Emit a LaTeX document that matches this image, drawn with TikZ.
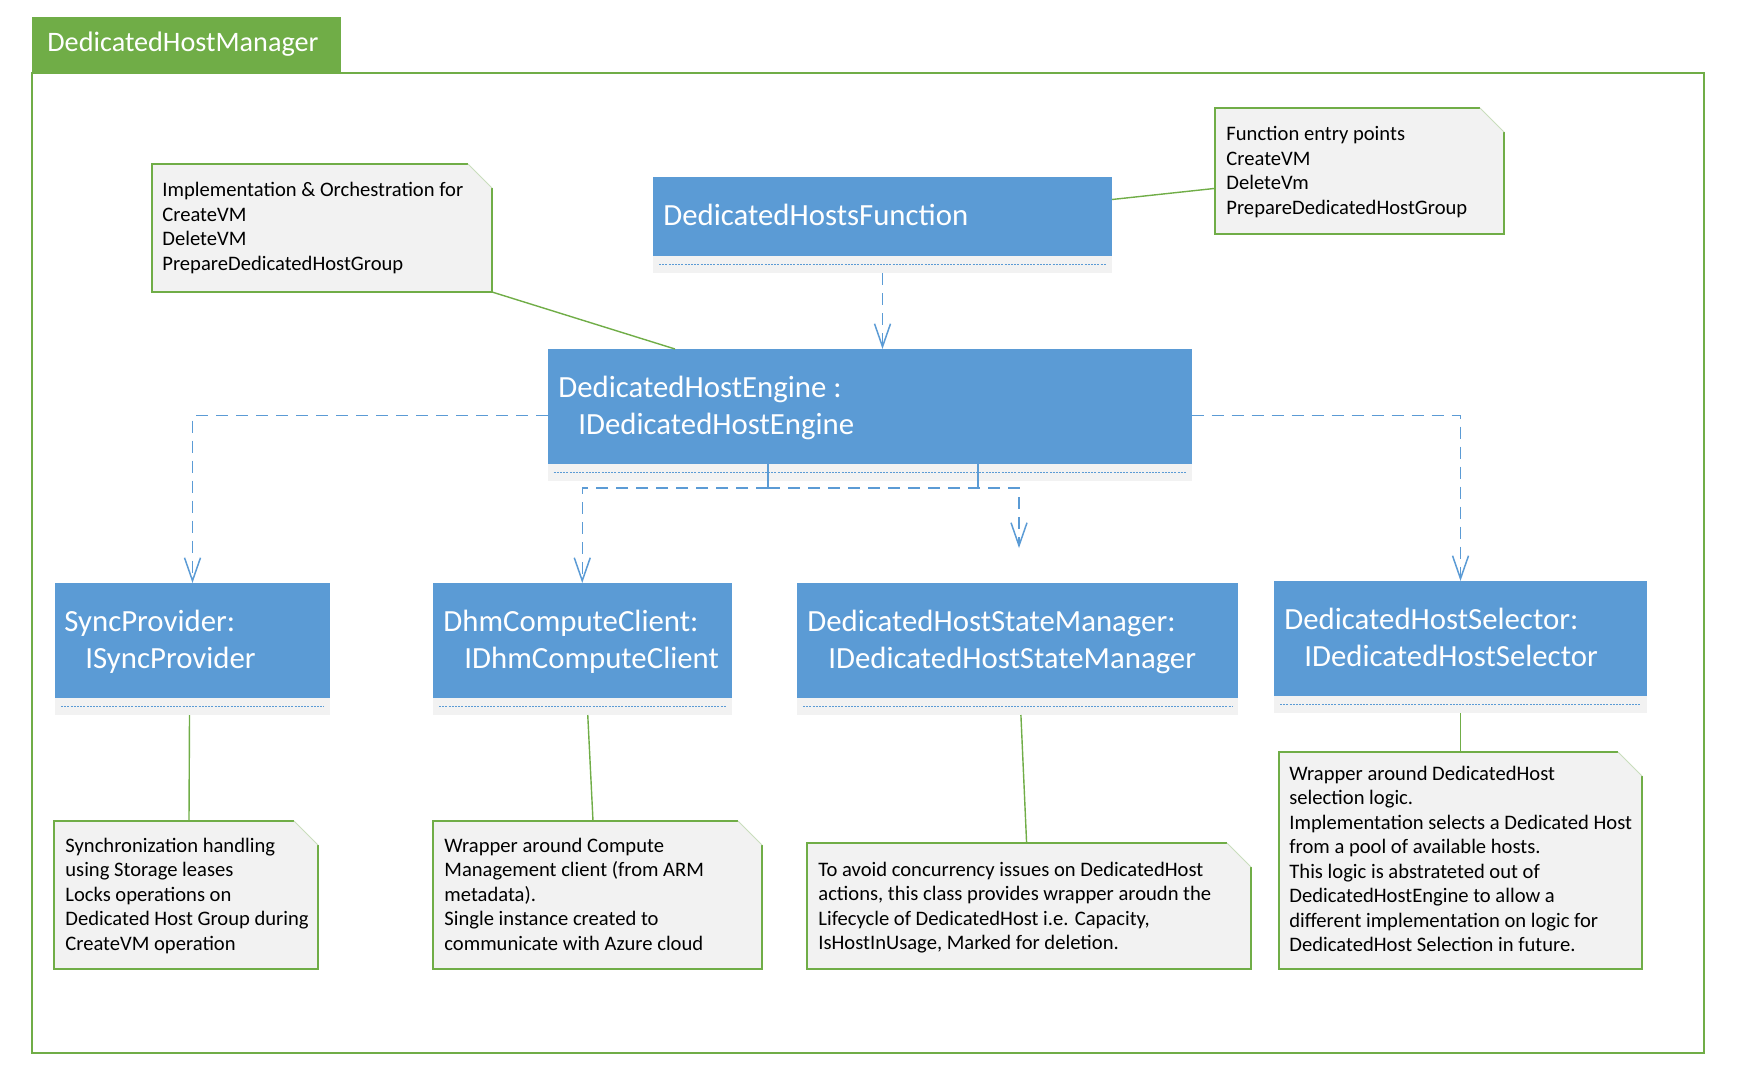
\documentclass[tikz,border=0pt]{standalone}
\usepackage{fontspec}
\setmainfont{Carlito}
\usetikzlibrary{arrows.meta,calc}
\definecolor{boxblue}{HTML}{5B9BD5}
\definecolor{stripgray}{HTML}{F2F2F2}
\definecolor{notegray}{HTML}{F2F2F2}
\definecolor{mgreen}{HTML}{70AD47}
\definecolor{foldgray}{HTML}{C9DDBC}
\newcommand{\boxfont}{\fontsize{15.4}{18.5}\selectfont}
\newcommand{\notefont}{\fontsize{10.3}{12.25}\selectfont}
\newcommand{\tabfont}{\fontsize{14.1}{16}\selectfont}
\newcommand{\drawnote}[1]{%
  \fill[notegray] (#1.north west) -- ([xshift=-12pt]#1.north east) -- ([yshift=-12pt]#1.north east) -- (#1.south east) -- (#1.south west) -- cycle;
  \draw[mgreen, line width=0.7pt] ([yshift=-12pt]#1.north east) -- (#1.south east) -- (#1.south west) -- (#1.north west) -- ([xshift=-12pt]#1.north east);
  \draw[foldgray, line width=0.4pt] ([xshift=-12pt]#1.north east) -- ([yshift=-12pt]#1.north east);
}
\tikzset{
  base/.style={rectangle, inner sep=0pt, outer sep=0pt, anchor=north west},
  clsbox/.style={base, fill=boxblue},
  clsstrip/.style={base, fill=stripgray, minimum height=8.5pt},
  notebox/.style={base},
  tabbox/.style={base, fill=mgreen},
  clstext/.style={anchor=base west, inner sep=0pt, text=white, font=\boxfont},
  ntext/.style={anchor=base west, inner sep=0pt, text=black, font=\notefont},
  dep/.style={draw=boxblue, line width=0.75pt, dash pattern=on 6pt off 4pt, -{Straight Barb[length=11.5pt,width=8pt]}},
  stub/.style={draw=boxblue, line width=0.75pt},
  dotln/.style={draw=boxblue, line width=0.6pt, dash pattern=on 1pt off 0.6pt},
  glink/.style={draw=mgreen, line width=0.7pt},
}
\begin{document}
\begin{tikzpicture}[x=0.5pt, y=-0.5pt]
\useasboundingbox (0,0) rectangle (1738,1075);
% frame and tab
\node[tabbox, minimum width=154.5pt, minimum height=28pt] (tab) at (32,17) {};
\node[anchor=base west, inner sep=0pt, text=white, font=\tabfont] (tabt) at (47,52) {DedicatedHostManager};
\draw[mgreen, line width=0.75pt] (32,73) rectangle (1704,1053);

% class boxes
\node[clsbox, minimum width=229.5pt, minimum height=39.5pt] (func) at (653,177) {};
\node[clsstrip, minimum width=229.5pt] (funcG) at (653,256) {};
\node[clstext] (funct) at (663,226) {DedicatedHostsFunction};

\node[clsbox, minimum width=322pt, minimum height=57.5pt] (eng) at (547.5,349) {};
\node[clsstrip, minimum width=322pt] (engG) at (547.5,464) {};
\node[clstext] (engt) at (558,397) {\begin{tabular}[t]{@{}l@{}}DedicatedHostEngine :\\\hspace*{10pt}IDedicatedHostEngine\end{tabular}};

\node[clsbox, minimum width=137.5pt, minimum height=57.5pt] (sync) at (55,583) {};
\node[clsstrip, minimum width=137.5pt] (syncG) at (55,698) {};
\node[clstext] (synct) at (64,631) {\begin{tabular}[t]{@{}l@{}}SyncProvider:\\\hspace*{10.5pt}ISyncProvider\end{tabular}};

\node[clsbox, minimum width=149.25pt, minimum height=57.5pt] (dhm) at (433,583) {};
\node[clsstrip, minimum width=149.25pt] (dhmG) at (433,698) {};
\node[clstext] (dhmt) at (443,631) {\begin{tabular}[t]{@{}l@{}}DhmComputeClient:\\\hspace*{10.5pt}IDhmComputeClient\end{tabular}};

\node[clsbox, minimum width=220.5pt, minimum height=57.5pt] (state) at (797,583) {};
\node[clsstrip, minimum width=220.5pt] (stateG) at (797,698) {};
\node[clstext] (statet) at (807,631) {\begin{tabular}[t]{@{}l@{}}DedicatedHostStateManager:\\\hspace*{10.5pt}IDedicatedHostStateManager\end{tabular}};

\node[clsbox, minimum width=186.5pt, minimum height=57.5pt] (sel) at (1274,581) {};
\node[clsstrip, minimum width=186.5pt] (selG) at (1274,696) {};
\node[clstext] (selt) at (1284,629) {\begin{tabular}[t]{@{}l@{}}DedicatedHostSelector:\\\hspace*{10pt}IDedicatedHostSelector\end{tabular}};

% dotted lines in strips
\foreach \n in {funcG,engG,syncG,dhmG,stateG,selG}{
  \draw[dotln] ([xshift=3pt]\n.west) -- ([xshift=-3pt]\n.east);
}

% notes
\node[notebox, minimum width=144.5pt, minimum height=63pt] (nTR) at (1215,108) {};
\node[notebox, minimum width=170pt, minimum height=64pt] (nTL) at (152,164) {};
\node[notebox, minimum width=132pt, minimum height=74pt] (n1) at (54,821) {};
\node[notebox, minimum width=164.5pt, minimum height=74pt] (n2) at (433,821) {};
\node[notebox, minimum width=222pt, minimum height=63pt] (n3) at (807,843) {};
\node[notebox, minimum width=181.5pt, minimum height=108.5pt] (n4) at (1279,752) {};
\foreach \n in {nTR,nTL,n1,n2,n3,n4}{\drawnote{\n}}

\node[ntext] (tTR) at (1226,141) {\begin{tabular}[t]{@{}l@{}}Function entry points\\CreateVM\\DeleteVm\\PrepareDedicatedHostGroup\end{tabular}};
\node[ntext] (tTL) at (162,197) {\begin{tabular}[t]{@{}l@{}}Implementation \& Orchestration for\\CreateVM\\DeleteVM\\PrepareDedicatedHostGroup\end{tabular}};
\node[ntext] (t1) at (65,852) {\begin{tabular}[t]{@{}l@{}}Synchronization handling\\using Storage leases\\Locks operations on\\Dedicated Host Group during\\CreateVM operation\end{tabular}};
\node[ntext] (t2) at (444,852) {\begin{tabular}[t]{@{}l@{}}Wrapper around Compute\\Management client (from ARM\\metadata).\\Single instance created to\\communicate with Azure cloud\end{tabular}};
\node[ntext] (t3) at (818,876) {\begin{tabular}[t]{@{}l@{}}To avoid concurrency issues on DedicatedHost\\actions, this class provides wrapper aroudn the\\Lifecycle of DedicatedHost i.e. Capacity,\\IsHostInUsage, Marked for deletion.\end{tabular}};
\node[ntext] (t4) at (1289,780) {\begin{tabular}[t]{@{}l@{}}Wrapper around DedicatedHost\\selection logic.\\Implementation selects a Dedicated Host\\from a pool of available hosts.\\This logic is abstrateted out of\\DedicatedHostEngine to allow a\\different implementation on logic for\\DedicatedHost Selection in future.\end{tabular}};

% green note links
\draw[glink] ([yshift=8.5pt]func.east) -- ([yshift=-8.7pt]nTR.west);
\draw[glink] (nTL.south east) -- ([xshift=63.75pt]eng.north west);
\draw[glink] ([xshift=-1.5pt]syncG.south) -- ([xshift=1.5pt]n1.north);
\draw[glink] ([xshift=2.75pt]dhmG.south) -- ([xshift=-2.25pt]n2.north);
\draw[glink] ([xshift=1.7pt]stateG.south) -- ([xshift=-1.2pt]n3.north);
\draw[glink] (selG.south) -- (n4.north);

% dependency arrows
\draw[dep] (funcG.south) -- (funcG.south |- eng.north);
\draw[dep] ([yshift=-4.5pt]eng.west) -| (sync.north);
\draw[dep] ([yshift=-4.5pt]eng.east) -| (sel.north);
\coordinate (j1) at (768,488);
\coordinate (j2) at (978,488);
\coordinate (fe) at (1019,548);
\draw[stub] (eng.south -| j1) -- (j1);
\draw[stub] (eng.south -| j2) -- (j2);
\draw[dep] (j1) -| (dhm.north);
\draw[dep] (j1) -- (j2) -| (fe);
\end{tikzpicture}
\end{document}
